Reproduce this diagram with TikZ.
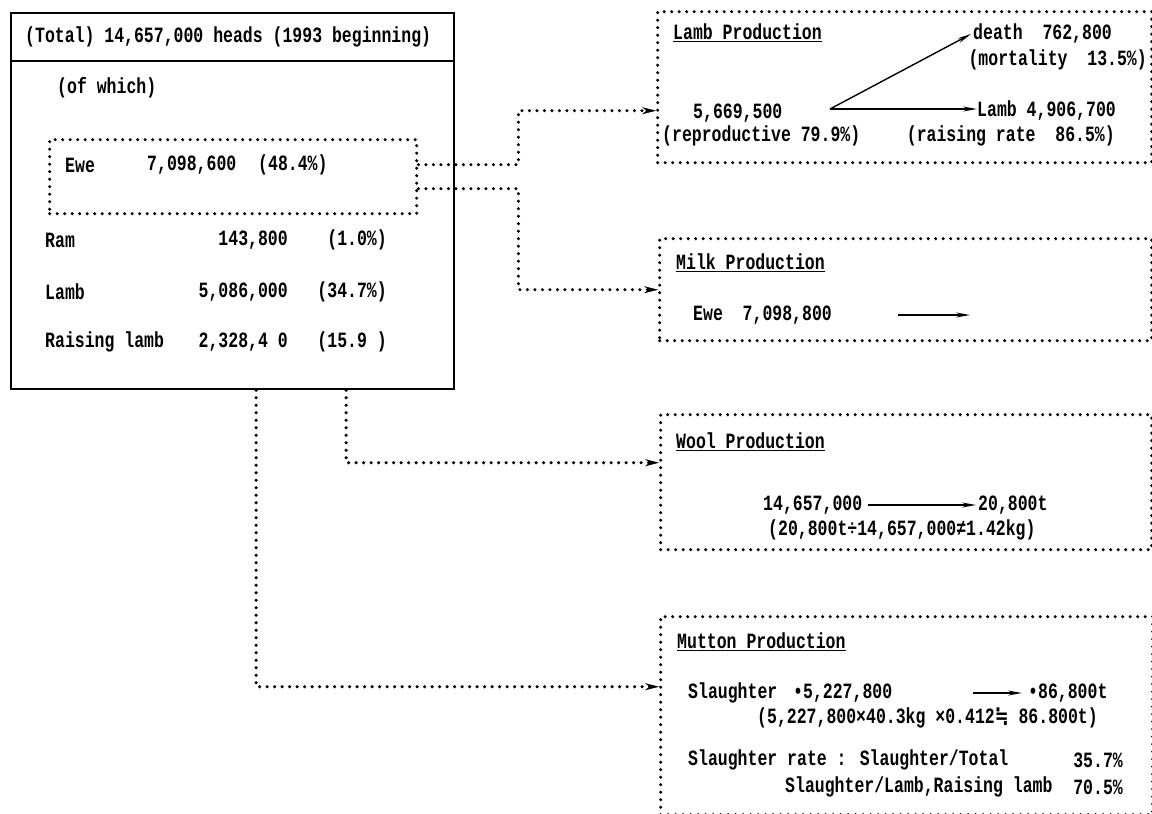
\documentclass[tikz,border=0pt]{standalone}
\usepackage{fontspec}
\usepackage{graphicx}
\usetikzlibrary{arrows.meta,calc}
\newfontfamily\monof{Liberation Mono}
\newfontfamily\symf{DejaVu Sans}
\newcommand\tx[1]{\scalebox{1}[1.32]{#1}}
\begin{document}
\begin{tikzpicture}[x=1pt,y=-1pt,
  solidbox/.style={draw, line width=2.2pt, rectangle, inner sep=0pt, anchor=north west},
  dotbox/.style={draw, rectangle, inner sep=0pt, anchor=north west, dash pattern=on 0pt off 7.5pt, line cap=round, line width=3.4pt},
  conn/.style={dash pattern=on 0pt off 7.5pt, line cap=round, line width=3.4pt, -{Stealth[length=14pt,width=7pt,line width=0.5pt]}},
  flow/.style={line width=1.4pt, -{Stealth[length=14pt,width=5pt]}},
  txt/.style={inner sep=0pt, anchor=west, font=\monof\bfseries\fontsize{16.5}{18}\selectfont},
  txr/.style={txt, anchor=east}
]
\useasboundingbox (0,0) rectangle (1152,814);
\fill[white] (0,0) rectangle (1152,814);

% main box
\node[solidbox, minimum width=443pt, minimum height=376pt] (main) at (10,12) {};
\draw[line width=2.2pt] (main.west |- 0,61) -- (main.east |- 0,61);
\node[txt] (hdr) at (25,37) {\tx{(Total) 14,657,000 heads (1993 beginning)}};
\node[txt] (ofwhich) at (57,88) {\tx{(of which)}};
\node[dotbox, minimum width=367pt, minimum height=74pt] (ewebox) at (48,138) {};
\node[txt] (ewe) at (65,165) {\tx{Ewe}};
\node[txt] (ewen) at (147,165) {\tx{7,098,600}};
\node[txt] (ewep) at (258,165) {\tx{(48.4\%)}};
\node[txt] (ram) at (45,240) {\tx{Ram}};
\node[txr] (ramn) at (288,240) {\tx{143,800}};
\node[txr] (ramp) at (387,240) {\tx{(1.0\%)}};
\node[txt] (lamb) at (45,292) {\tx{Lamb}};
\node[txr] (lambn) at (288,292) {\tx{5,086,000}};
\node[txr] (lambp) at (387,292) {\tx{(34.7\%)}};
\node[txt] (rlamb) at (45,342) {\tx{Raising lamb}};
\node[txr] (rlambn) at (288,342) {\tx{2,328,4~0}};
\node[txr] (rlambp) at (387,342) {\tx{(15.9~)}};

% lamb production
\node[dotbox, minimum width=494pt, minimum height=151pt] (lambbox) at (656,10) {};
\node[txt] (lt) at (673,33) {\tx{\underline{Lamb Production}}};
\node[txt] (lrep) at (693,113) {\tx{5,669,500}};
\node[txt] (lrepp) at (662,136) {\tx{(reproductive 79.9\%)}};
\node[txt] (death) at (973,34) {\tx{death~~762,800}};
\node[txr] (mort) at (1147,60) {\tx{(mortality~~13.5\%)}};
\node[txt] (lout) at (977,111) {\tx{Lamb 4,906,700}};
\node[txr] (raise) at (1115,136) {\tx{(raising rate~~86.5\%)}};
\coordinate (lsplit) at (830,109);
\draw[flow] (lsplit) -- ([xshift=-2pt]death.west);
\draw[flow] (lsplit) -- (lout.west |- lsplit);

% milk production
\node[dotbox, minimum width=492pt, minimum height=102pt] (milkbox) at (658,237) {};
\node[txt] (mt) at (676,263) {\tx{\underline{Milk Production}}};
\node[txt] (mewe) at (693,315) {\tx{Ewe~~7,098,800}};
\coordinate (ma) at (898,315);
\coordinate (mb) at (970,315);
\draw[flow] (ma) -- (mb);

% wool production
\node[dotbox, minimum width=491pt, minimum height=135pt] (woolbox) at (659,413) {};
\node[txt] (wt) at (676,442) {\tx{\underline{Wool Production}}};
\node[txt] (w1) at (763,505) {\tx{14,657,000}};
\node[txt] (w2) at (978,505) {\tx{20,800t}};
\draw[flow] ([xshift=6pt]w1.east) -- ([xshift=-2pt]w2.west);
\node[txt] (w3) at (768,530) {\tx{(20,800t÷14,657,000≠1.42kg)}};

% mutton production
\node[dotbox, minimum width=492pt, minimum height=198pt] (muttonbox) at (659,615) {};
\node[txt] (mtt) at (677,642) {\tx{\underline{Mutton Production}}};
\node[txt] (sl) at (688,693) {\tx{Slaughter}};
\node[txt] (sln) at (793,693) {\tx{•5,227,800}};
\node[txt] (slt) at (1028,693) {\tx{•86,800t}};
\coordinate (sa) at (973,693);
\draw[flow] (sa) -- ([xshift=-6pt]slt.west);
\node[txt] (sl2) at (757,718) {\tx{(5,227,800×40.3kg ×0.412{\symf ≒} 86.800t)}};
\node[txt] (sr1) at (688,760) {\tx{Slaughter rate : Slaughter/Total}};
\node[txr] (sr1p) at (1123,760) {\tx{35.7\%}};
\node[txt] (sr2) at (785,787) {\tx{Slaughter/Lamb,Raising lamb}};
\node[txr] (sr2p) at (1123,787) {\tx{70.5\%}};

% connectors
\draw[conn] ([yshift=12pt]ewebox.east) -- ++(100,0) |- ([yshift=-23.5pt]lambbox.west);
\draw[conn] ([yshift=-12pt]ewebox.east) -- ++(100,0) |- (milkbox.west);
\draw[conn] ([xshift=113.5pt]main.south) |- ([yshift=19.5pt]woolbox.west);
\draw[conn] ([xshift=23.5pt]main.south) |- ([yshift=29pt]muttonbox.west);
\end{tikzpicture}
\end{document}
